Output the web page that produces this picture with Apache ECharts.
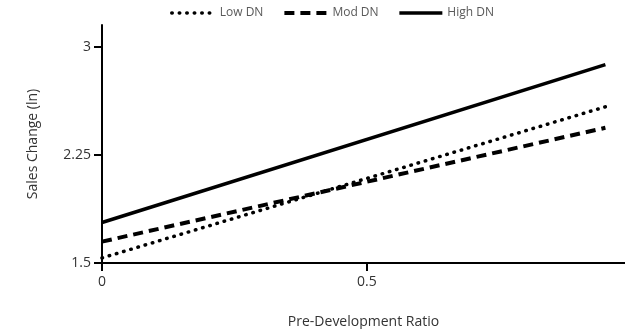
<!DOCTYPE html>
<html>
<head>
<meta charset="utf-8">
<script src="https://cdn.jsdelivr.net/npm/echarts@6/dist/echarts.min.js"></script>
<style>html,body{margin:0;padding:0;background:#fff;}#c{width:625px;height:329px;}</style>
</head>
<body>
<div id="c"></div>
<script>
var seriesNames = ['Low DN', 'Mod DN', 'High DN'];
var xValues = [0, 0.95];
var lowDN = [1.535, 2.583];
var modDN = [1.648, 2.4375];
var highDN = [1.781, 2.875];
var yTicks = [1.5, 2.25, 3];
var xTicks = [0, 0.5];

function pairs(ys) { return xValues.map(function (x, i) { return [x, ys[i]]; }); }

var styles = [
  { width: 3.5, type: [0.5, 7], cap: 'round', color: '#000' },
  { width: 4, type: [10, 6], cap: 'butt', color: '#000' },
  { width: 3.5, type: 'solid', cap: 'butt', color: '#000' }
];
var values = [lowDN, modDN, highDN];
var font = '"Open Sans", sans-serif';

var chart = echarts.init(document.getElementById('c'), null, { renderer: 'canvas' });
chart.setOption({
  animation: false,
  textStyle: { fontFamily: font },
  legend: {
    left: 170, top: 7, padding: 0,
    itemWidth: 43, itemHeight: 10, itemGap: 19,
    itemStyle: { opacity: 0 },
    textStyle: { fontSize: 12, color: '#595959', fontFamily: font },
    data: seriesNames.map(function (n, i) {
      return { name: n, lineStyle: styles[i] };
    })
  },
  grid: { left: 102, right: 0, top: 25, bottom: 66, containLabel: false, outerBoundsMode: 'none' },
  xAxis: {
    type: 'value', min: 0, max: 0.987, interval: 0.5,
    name: 'Pre-Development Ratio', nameLocation: 'middle', nameGap: 52,
    nameTextStyle: { fontSize: 14, color: '#333', fontFamily: font },
    axisLine: { show: true, onZero: false, lineStyle: { color: '#000', width: 2 } },
    axisTick: { show: true, length: 8, lineStyle: { color: '#000', width: 2 }, customValues: xTicks },
    axisLabel: { fontSize: 14, color: '#333', margin: 12, customValues: xTicks },
    splitLine: { show: false }
  },
  yAxis: {
    type: 'value', min: 1.5, max: 3.15, interval: 0.75,
    name: 'Sales Change (ln)', nameLocation: 'middle', nameGap: 62,
    nameTextStyle: { fontSize: 14, color: '#333', fontFamily: font },
    axisLine: { show: true, onZero: false, lineStyle: { color: '#000', width: 2 } },
    axisTick: { show: true, length: 8, lineStyle: { color: '#000', width: 2 }, customValues: yTicks },
    axisLabel: { fontSize: 14, color: '#333', margin: 11, customValues: yTicks },
    splitLine: { show: false }
  },
  series: seriesNames.map(function (n, i) {
    return {
      name: n, type: 'line', data: pairs(values[i]),
      symbol: 'none', lineStyle: styles[i], itemStyle: { color: '#000' }
    };
  })
});
</script>
</body>
</html>
